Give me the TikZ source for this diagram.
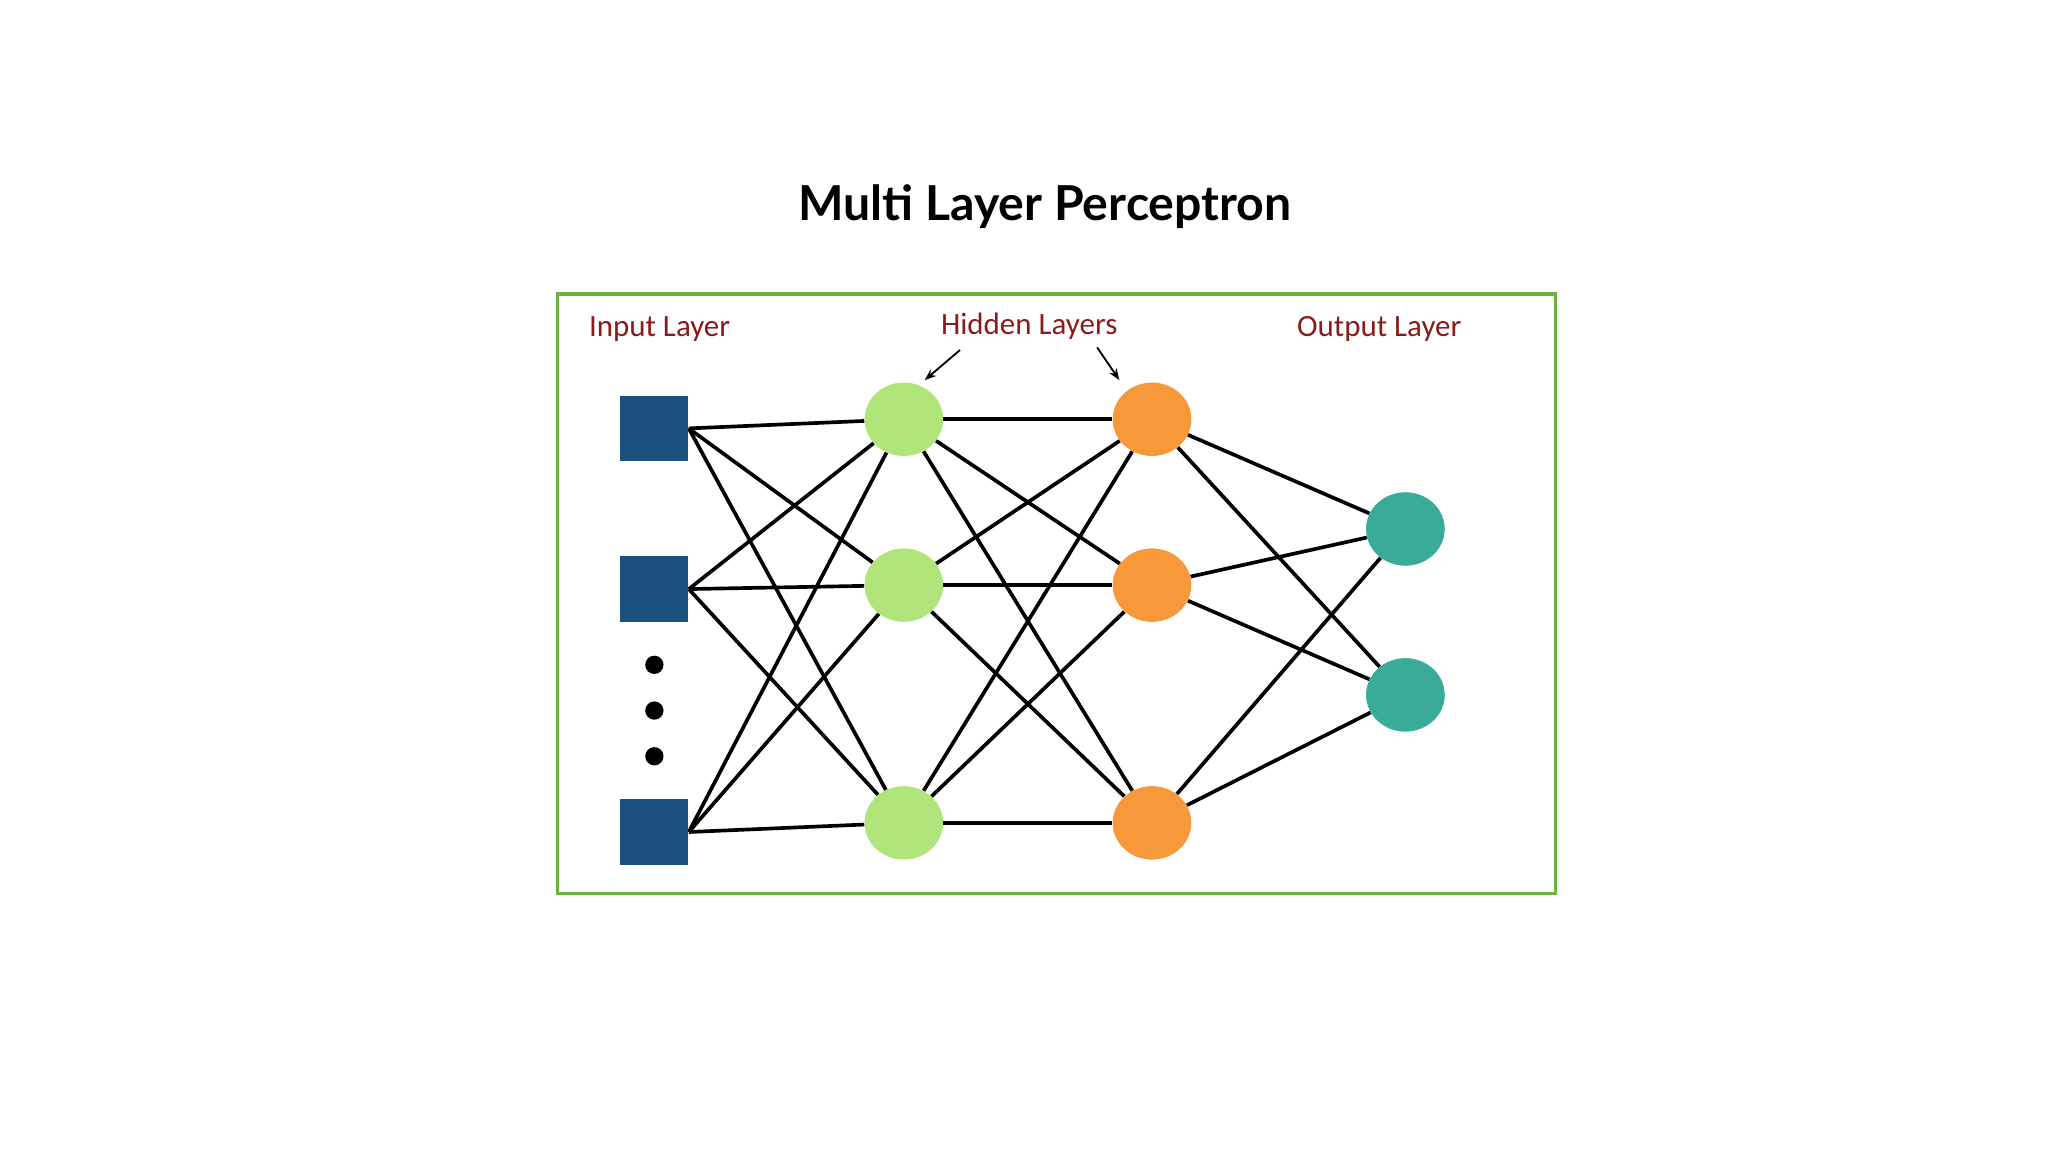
\documentclass[tikz,border=0pt]{standalone}
\usepackage{fontspec}
\setmainfont{Lato}
\newfontfamily\lblfont{Carlito}
\usetikzlibrary{shapes.geometric,arrows.meta}
\definecolor{boxg}{HTML}{6DB33F}
\definecolor{inb}{HTML}{1A4F7E}
\definecolor{hgreen}{HTML}{B0E57C}
\definecolor{horange}{HTML}{F7993A}
\definecolor{oteal}{HTML}{3AAA99}
\definecolor{lblred}{HTML}{8B1A1A}
\begin{document}
\begin{tikzpicture}[x=0.02cm,y=-0.02cm,
  sq/.style={rectangle,fill=inb,minimum width=1.04cm,minimum height=1.0cm,inner sep=0},
  hn/.style={ellipse,minimum width=1.2cm,minimum height=1.12cm,inner sep=0},
  lbl/.style={font=\lblfont\fontsize{13.5}{16}\selectfont,text=lblred},
  edge/.style={line width=1.6pt,black}]
\useasboundingbox (0,0) rectangle (1568,882);
\node[font=\bfseries\fontsize{21}{26}\selectfont] (title) at (800,158) {Multi Layer Perceptron};
\draw[boxg,line width=1.5pt] (427,225) rectangle (1191,684);
\node[lbl] (lin) at (505,252) {Input Layer};
\node[lbl] (lhid) at (788,250) {Hidden Layers};
\node[lbl] (lout) at (1056,252) {Output Layer};
\coordinate (a1s) at (735,268); \coordinate (a1e) at (708,291);
\coordinate (a2s) at (840,266); \coordinate (a2e) at (857,291);
\draw[-{Stealth[length=5pt]},line width=0.8pt] (a1s) -- (a1e);
\draw[-{Stealth[length=5pt]},line width=0.8pt] (a2s) -- (a2e);
\node[sq] (i1) at (501,328) {};
\node[sq] (i2) at (501,451) {};
\node[sq] (i3) at (501,637) {};
\foreach \y [count=\k] in {509,544,579} \fill (501,\y) circle (7) coordinate (d\k);
\foreach \y [count=\k] in {321,448,630} {
  \node[hn,fill=hgreen] (h\k) at (692,\y) {};
  \node[hn,fill=horange] (g\k) at (882,\y) {};
}
\node[hn,fill=oteal] (o1) at (1076,405) {};
\node[hn,fill=oteal] (o2) at (1076,532) {};
\begin{scope}[on background layer/.style={}]
\end{scope}
\foreach \i in {1,2,3} \foreach \j in {1,2,3} {
  \draw[edge] (i\i.east) -- (h\j);
  \draw[edge] (h\i) -- (g\j);
}
\foreach \i in {1,2,3} \foreach \j in {1,2} \draw[edge] (g\i) -- (o\j);
% redraw nodes on top
\foreach \k in {1,2,3} {
  \node[hn,fill=hgreen] at (h\k) {};
  \node[hn,fill=horange] at (g\k) {};
  \node[sq] at (i\k) {};
}
\node[hn,fill=oteal] at (o1) {};
\node[hn,fill=oteal] at (o2) {};
\end{tikzpicture}
\end{document}
